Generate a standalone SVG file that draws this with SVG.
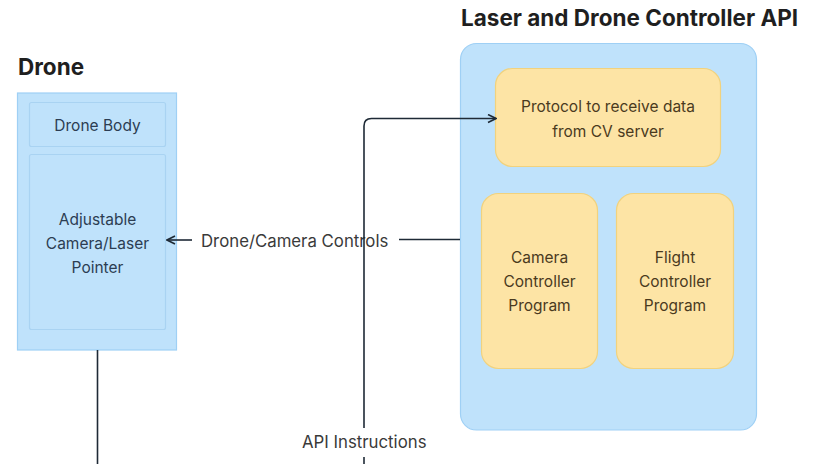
<svg xmlns="http://www.w3.org/2000/svg" width="815" height="464" viewBox="0 0 815 464">
  <defs>
    <marker id="arrow" viewBox="0 0 10 10" refX="9" refY="5" markerWidth="10" markerHeight="10" markerUnits="userSpaceOnUse" orient="auto">
      <path d="M1 1 L9 5 L1 9" fill="none" stroke="#1e2a36" stroke-width="1.6"/>
    </marker>
  </defs>
  <style>
    .title { font-family: Inter, "Liberation Sans", sans-serif; font-weight: 700; font-size: 22.5px; fill: #1f1f1f; }
    .blue { fill: #bfe2fb; stroke: #9fd0f5; stroke-width: 1.2; }
    .inner { fill: #bfe2fb; stroke: #a9d3f2; stroke-width: 1.2; }
    .yellow { fill: #fde4a5; stroke: #f1d27e; stroke-width: 1.2; }
    .lbl { font-family: Inter, "Liberation Sans", sans-serif; font-size: 15.5px; text-anchor: middle; dominant-baseline: central; }
    .navy { fill: #2c3d52; }
    .brown { fill: #4a3a1e; }
    .edge { fill: none; stroke: #1e2a36; stroke-width: 1.6; }
    .elbl { font-family: Inter, "Liberation Sans", sans-serif; font-size: 16.8px; fill: #3a3a3a; dominant-baseline: central; }
  </style>

  <g id="drone">
    <text class="title" x="18" y="75">Drone</text>
    <rect class="blue" x="17.5" y="93" width="159" height="257"/>
    <g id="drone-body">
      <rect class="inner" x="29.5" y="102.5" width="136" height="44" rx="2"/>
      <text class="lbl navy" x="97.5" y="125">Drone Body</text>
    </g>
    <g id="camera-laser">
      <rect class="inner" x="29.5" y="154.5" width="136" height="175" rx="2"/>
      <text class="lbl navy" x="97.5" y="219">Adjustable</text>
      <text class="lbl navy" x="97.5" y="243">Camera/Laser</text>
      <text class="lbl navy" x="97.5" y="267">Pointer</text>
    </g>
  </g>

  <g id="controller-api">
    <text class="title" x="461" y="25.5">Laser and Drone Controller API</text>
    <rect class="blue" x="460.5" y="43.5" width="296" height="386.5" rx="16"/>
    <g id="protocol">
      <rect class="yellow" x="495.5" y="68.5" width="225" height="98" rx="17"/>
      <text class="lbl brown" x="608" y="106">Protocol to receive data</text>
      <text class="lbl brown" x="608" y="131">from CV server</text>
    </g>
    <g id="camera-controller">
      <rect class="yellow" x="481.5" y="193.5" width="116" height="175" rx="17"/>
      <text class="lbl brown" x="539.5" y="257">Camera</text>
      <text class="lbl brown" x="539.5" y="281">Controller</text>
      <text class="lbl brown" x="539.5" y="305">Program</text>
    </g>
    <g id="flight-controller">
      <rect class="yellow" x="616.5" y="193.5" width="117" height="175" rx="17"/>
      <text class="lbl brown" x="675" y="257">Flight</text>
      <text class="lbl brown" x="675" y="281">Controller</text>
      <text class="lbl brown" x="675" y="305">Program</text>
    </g>
  </g>

  <g id="connectors">
    <!-- API controls to drone camera -->
    <path class="edge" d="M460 239.5 H399"/>
    <path class="edge" d="M192 240 H167" marker-end="url(#arrow)"/>
    <text class="elbl" x="201" y="241">Drone/Camera Controls</text>
    <!-- API instructions up into the protocol block -->
    <path class="edge" d="M364 464 V457"/>
    <path class="edge" d="M364 428 V126 Q364 118.5 371.5 118.5 H496" marker-end="url(#arrow)"/>
    <text class="elbl" x="302" y="442">API Instructions</text>
    <!-- drone downlink -->
    <path class="edge" d="M97.5 350 V464"/>
  </g>
</svg>
